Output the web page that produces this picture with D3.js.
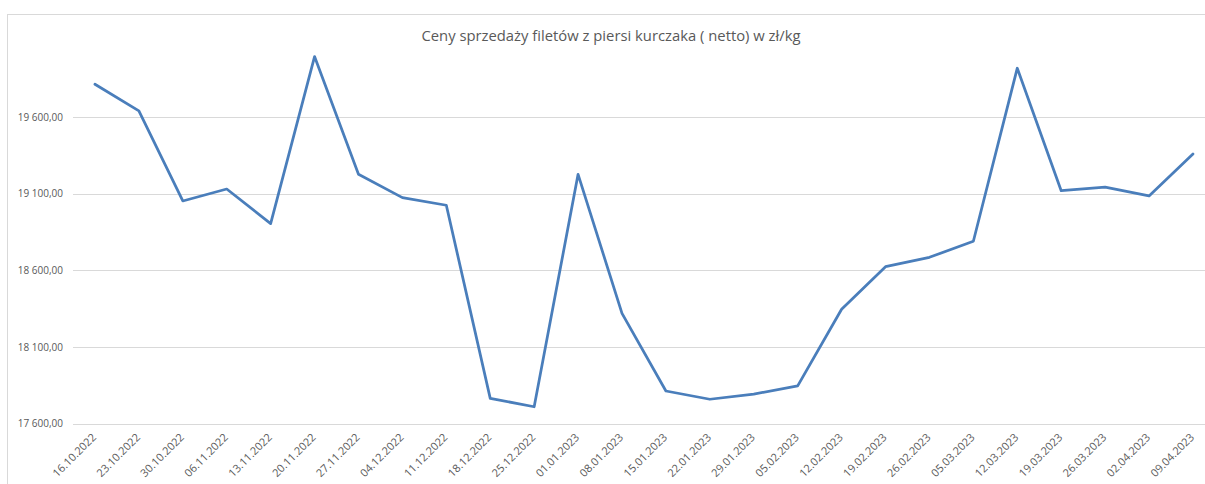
<!DOCTYPE html>
<html><head><meta charset="utf-8">
<script src="https://cdn.jsdelivr.net/npm/d3@7"></script>
<style>body{margin:0;background:#fff}svg{display:block}text{font-family:"Open Sans",sans-serif;fill:#595959}</style>
</head><body><svg id="c" width="1205" height="484"></svg>
<script>
const title = "Ceny sprzedaży filetów z piersi kurczaka ( netto) w zł/kg";
const categories = ["16.10.2022","23.10.2022","30.10.2022","06.11.2022","13.11.2022","20.11.2022","27.11.2022","04.12.2022","11.12.2022","18.12.2022","25.12.2022","01.01.2023","08.01.2023","15.01.2023","22.01.2023","29.01.2023","05.02.2023","12.02.2023","19.02.2023","26.02.2023","05.03.2023","12.03.2023","19.03.2023","26.03.2023","02.04.2023","09.04.2023"];
const prices = [19816,19642,19054,19132,18906,19997,19228,19076,19026,17765,17710,19228,18320,17813,17759,17793,17846,18347,18625,18686,18791,19921,19121,19145,19087,19361];
const yTicks = [17600,18100,18600,19100,19600];

const svg = d3.select("#c");
// chart frame
svg.append("rect").attr("x",7.5).attr("y",14.5).attr("width",1250).attr("height",520)
  .attr("fill","#fff").attr("stroke","#d9d9d9").attr("stroke-width",1);

const x = d3.scaleBand().domain(categories).range([73, 73 + 43.92*26]);
const y = d3.scaleLinear().domain([17600, 20100]).range([423.6, 40.8]);

const fmt = v => d3.format(",.2f")(v).replace(/,/g," ").replace(".",",");

// gridlines
svg.append("g").selectAll("line").data(yTicks).join("line")
  .attr("x1",73).attr("x2",1215).attr("y1",d=>Math.round(y(d))+0.5).attr("y2",d=>Math.round(y(d))+0.5)
  .attr("stroke","#d9d9d9").attr("stroke-width",1);

// y labels
svg.append("g").selectAll("text").data(yTicks).join("text")
  .attr("x",63).attr("y",d=>y(d)).attr("dy","0.35em").attr("text-anchor","end")
  .attr("font-size",10).text(fmt);

// x labels
svg.append("g").selectAll("text").data(categories).join("text")
  .attr("text-anchor","end").attr("font-size",11)
  .attr("transform",d=>`translate(${x(d)+x.bandwidth()/2+2},${438}) rotate(-45)`)
  .text(d=>d);

// line
const line = d3.line().x((d,i)=>x(categories[i])+x.bandwidth()/2).y(d=>y(d));
svg.append("path").datum(prices).attr("d",line).attr("fill","none")
  .attr("stroke","#4a7ebb").attr("stroke-width",2.75).attr("stroke-linejoin","round").attr("stroke-linecap","round");

// title
svg.append("text").attr("x",611).attr("y",41).attr("text-anchor","middle").attr("font-size",14.8).text(title);
</script></body></html>
